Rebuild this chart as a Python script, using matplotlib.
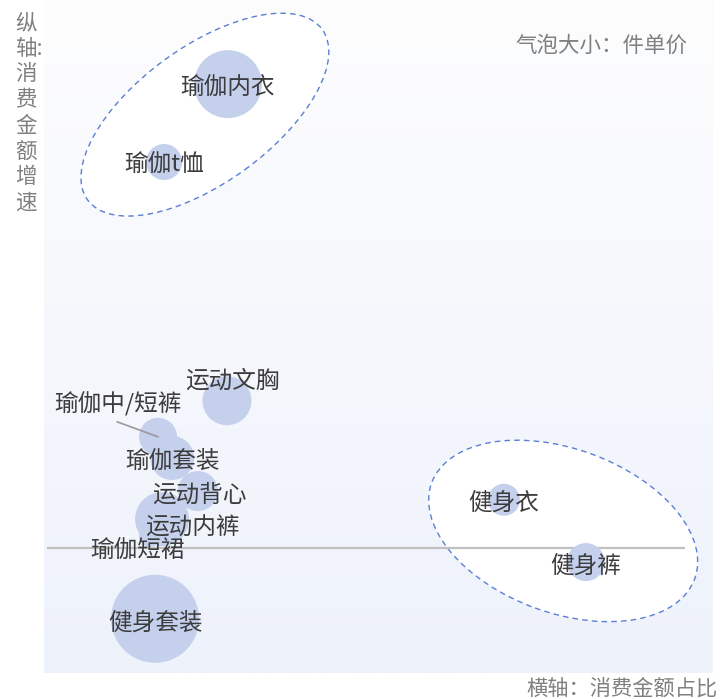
import numpy as np
import matplotlib
matplotlib.use("Agg")
import matplotlib.pyplot as plt
from matplotlib.patches import Ellipse
from matplotlib.transforms import ScaledTranslation

plt.rcParams['font.family'] = ['Noto Sans CJK SC', 'DejaVu Sans']

# ---- data ----
categories = ['瑜伽内衣', '瑜伽t恤', '运动文胸', '瑜伽中/短裤', '瑜伽套装', '运动背心',
              '运动内裤', '瑜伽短裙', '健身套装', '健身衣', '健身裤']
share = [5.50, 3.59, 5.47, 3.41, 3.83, 4.60, 3.53, 3.17, 3.32, 13.75, 16.20]      # 消费金额占比
growth = [74.5, 62.0, 23.7, 17.9, 14.5, 9.2, 4.7, 2.0, -11.3, 7.8, -2.2]          # 消费金额增速
price = [289, 81, 150, 90, 121, 100, 182, 30, 484, 64, 90]                          # 件单价
# label offsets in pixels (dx, dy)
label_off = [(0, -4), (0, -3), (5, 20), (-40, 33), (0, -3), (1, -4),
             (30, -9), (-12, -16), (0, -4), (0, -3), (0, -4)]

W, H, DPI = 7.21, 6.99, 100
fig = plt.figure(figsize=(W, H), dpi=DPI)
fig.patch.set_facecolor('white')
ax = fig.add_axes([44 / 721, (699 - 673) / 699, 669 / 721, 673 / 699])
ax.set_xlim(0, 20)
ax.set_ylim(-20, 88)
ax.set_axis_off()

# gradient background
grad = np.linspace(0, 1, 256).reshape(-1, 1)
top = np.array([0xfd, 0xfd, 0xfe]) / 255
bot = np.array([0xee, 0xf2, 0xfb]) / 255
img = top[None, None, :] * (1 - grad[:, :, None]) + bot[None, None, :] * grad[:, :, None]
ax.imshow(img, extent=[0, 20, -20, 88], aspect='auto', origin='upper', zorder=0)

# dashed group ellipses (drawn in pixel space around a data-space centre)
def group_ellipse(cx, cy, a_px, b_px, angle):
    tr = fig.dpi_scale_trans + ScaledTranslation(cx, cy, ax.transData)
    e = Ellipse((0, 0), 2 * a_px / DPI, 2 * b_px / DPI, angle=angle, transform=tr,
                facecolor='white', edgecolor='#5b7fd4', lw=1.0, linestyle=(0, (4, 3)), zorder=1.5)
    ax.add_patch(e)

group_ellipse(4.81, 69.6, 145, 68, 36)
group_ellipse(15.52, 2.8, 140, 82, -20)

# zero line
ax.hlines(0, 0.09, 19.16, color='#c0c0c0', lw=1.6, zorder=1.8)

# bubbles
sizes = [(2 * 2 * np.sqrt(p) * 0.72) ** 2 for p in price]
ax.scatter(share, growth, s=sizes, color='#c5d0ec', edgecolors='none', zorder=2)

for name, x, y, (dx, dy) in zip(categories, share, growth, label_off):
    ax.annotate(name, (x, y), xytext=(dx, dy), textcoords='offset pixels',
                ha='center', va='center', fontsize=17, color='#3c3c3c', zorder=4)

# leader line for 瑜伽中/短裤
i = categories.index('瑜伽中/短裤')
ax.annotate('', (share[i], growth[i]), xytext=(-41, 15), textcoords='offset pixels',
            arrowprops=dict(arrowstyle='-', color='#999999', lw=1.2, shrinkA=0, shrinkB=0), zorder=3)

# axis captions
vchars = ['纵', '轴:', '消', '费', '金', '额', '增', '速']
for k, ch in enumerate(vchars):
    py = 23 + k * 25.7
    fig.text(15 / 721, 1 - py / 699, ch, fontsize=15.5, color='#808080', ha='left', va='center')

fig.text(601 / 721, 1 - 46 / 699, '气泡大小：件单价', fontsize=15.5, color='#808080',
         ha='center', va='center')
fig.text(718 / 721, 1 - 689 / 699, '横轴：消费金额占比', fontsize=15.3, color='#808080',
         ha='right', va='center')

fig.savefig('out.png', dpi=DPI, facecolor='white')
